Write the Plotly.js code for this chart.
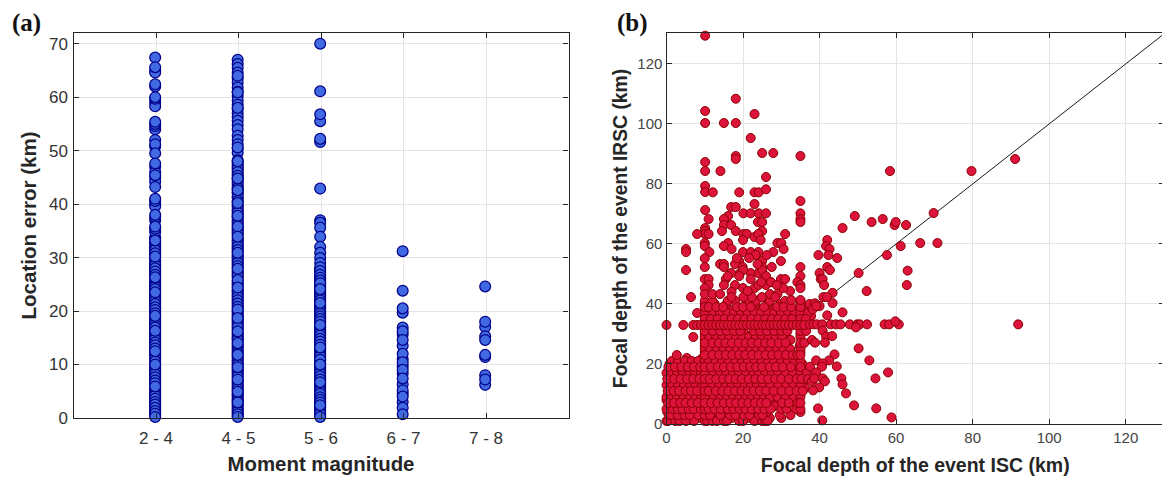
<!DOCTYPE html>
<html>
<head>
<meta charset="utf-8">
<script src="https://cdn.plot.ly/plotly-3.0.1.min.js"></script>
<style>html,body{margin:0;padding:0;background:#fff;overflow:hidden;width:1162px;height:478px}#chart{width:1164px;height:478px}</style>
</head>
<body>
<div id="chart"></div>
<script>
// ---------- Panel (a): location error by magnitude class ----------
const magnitudeClasses = ["2 - 4", "4 - 5", "5 - 6", "6 - 7", "7 - 8"];
const denseM2to4 = [33.8,33.5,32.9,32.3,31.7,31.1,30.5,29.9,29.2,28.8,28.3,27.7,27.1,26.6,26,25.3,24.8,24.3,23.8,23.2,22.7,22.1,21.6,21,20.5,19.9,19.4,18.9,18.3,17.7,17.2,16.6,16,15.5,14.9,14.4,13.8,13.3,12.8,12.2,11.6,11.1,10.3,9.7,9.1,8.5,7.9,7.3,6.8,6.2,5.6,5,4.4,3.9,3.3,2.8,2.2,1.6,1,0.5];
const errorsM2to4 = [67.4,65.0,64.6,65.6,62.0,62.4,59.0,58.3,59.7,60.0,54.0,54.6,55.0,55.4,52.0,50.8,51.2,49.5,47.0,46.0,47.6,45.0,44.2,45.4,43.2,40.0,39.6,40.6,41.0,37.0,37.6,38.0,34.8,35.4,35.8,32.6,32.0,31.4,30.8,29.4,28.6,28.0,27.4,26.8,25.6,25.0,24.6,24.1,23.0,22.4,21.9,21.3,20.7,20.2,19.6,18.6,18.0,17.4,16.9,15.8,15.2,14.7,14.1,13.6,13.0,11.9,11.3,10.6,9.4,8.8,8.2,7.6,7.0,6.5,5.3,4.7,4.2,3.6,3.0,2.5,1.9,1.3,0.8,33.2,30.2,26.3,23.5,19.1,16.3,12.5,10.0,5.9,0.2];
const denseM4to5 = [47.8,47,46.4,45.6,44.9,44.2,43.4,42.8,42,41.2,40.4,39.5,38.8,38.1,37.4,36.7,36,35.5,34.9,34.3,33.6,33,32.3,31.7,31.1,30.5,29.9,29.3,28.7,28.1,27.5,26.9,26.3,25.6,25,24.6,24,23.5,22.9,22.3,21.7,21.1,20.5,20,19.4,18.9,18.4,17.9,17.3,16.8,16.4,15.8,15.2,14.8,14.2,13.7,13.1,12.5,11.9,11.4,10.8,10.3,9.7,9.2,8.7,8.1,7.5,6.9,6.3,5.7,5.1,4.6,4.1,3.5,3.1,2.6,2.1,1.5,1,0.4];
const errorsM4to5 = [67.0,66.2,65.5,64.6,63.6,62.8,61.8,61.0,60.2,59.4,58.6,57.8,57.0,56.3,55.6,54.8,54.0,52.8,52.0,51.2,50.4,49.6,48.2,47.4,46.7,46.0,45.3,44.6,43.8,43.0,42.2,41.4,40.6,39.8,39.0,38.4,37.7,37.0,36.4,35.2,34.6,33.2,32.6,32.0,31.4,30.2,29.6,29.0,28.4,27.2,26.6,25.2,23.8,23.2,22.6,22.0,21.4,20.8,19.8,19.2,18.2,17.6,17.0,15.6,15.0,14.6,13.4,12.8,12.2,11.2,10.6,10.0,9.0,8.4,7.8,6.6,6.0,5.4,4.4,3.8,3.3,2.4,1.8,1.2,0.7,64.0,60.9,58.0,50.6,48.0,44.8,42.6,40.2,37.8,35.8,33.9,30.9,27.9,25.8,24.4,20.3,18.7,16.2,14.0,11.8,9.5,7.2,4.9,2.9,0.2];
const denseM5to6 = [27.8,27.2,26.5,26,25.4,24.9,24.4,23.9,23.3,22.8,22.3,21.8,21.2,20.7,20.2,19.8,19.3,18.8,18.3,17.8,17.1,16.6,16.1,15.6,15.1,14.6,14,13.5,12.9,12.4,11.8,11.2,10.7,10.2,9.7,9.2,8.7,8.1,7.5,6.9,6.4,5.9,5.3,4.8,4.2,3.7,3.1,2.6,2.1,1.6,1,0.5];
const errorsM5to6 = [70.0,61.1,55.5,56.8,51.6,52.2,42.9,37.0,36.5,35.6,33.9,32.0,30.9,29.9,29.0,28.2,27.5,26.8,26.2,25.7,24.7,23.6,23.0,22.5,22.0,21.0,20.5,20.0,19.5,19.0,18.5,18.0,16.9,16.4,15.9,15.4,14.8,14.3,13.7,12.7,12.1,11.5,10.9,9.5,9.0,8.4,7.8,7.2,6.2,5.6,5.0,4.5,3.9,3.4,2.9,1.9,1.3,0.8,25.2,24.1,21.5,17.4,13.2,10.0,6.7,2.4,0.2];
const errorsM6to7 = [31.2,23.8,19.7,20.5,16.9,15.6,13.5,11.0,9.7,8.3,6.3,4.6,3.0,16.2,14.6,12.0,10.4,9.0,7.4,5.2,4.0,1.9,0.7];
const errorsM7to8 = [24.6,17.0,18.0,15.3,14.6,11.4,11.8,6.2,8.0,7.2];

// ---------- Panel (b): focal depth, ISC against IRSC ----------
const axisTicksDepth = [0,20,40,60,80,100,120];
const identityLine = [0,130];
const upperIsc = [10.1,18.1,10.1,23,10.1,15,18.1,22,25,27.9,35,18.1,18.1,10.1,10.1,14.1,26,10.1,10.1,12.1,19,23,24.1,26,23,35,16.9,18.1,10.1,20.1,22,24.1,26,35,16.1,15,11,35,35,23.9,25,15,16.9,10.1,10.1,10.1,14.5,18.1,25,8,11,20.1,21,23,24,31,20,24.6,10,10,16.1,15,17,29,30,30.6,27.9,5.1,5.1,11.2,20,22,24,23.3,10,29.9,19,25,14,15,17.9,10,15,19.9,25,27.5,35,5.1,16.9,19.2,24,22,20,25,26,19,35,10,11,15.5,22,29.9,31,34.2,35,11,15,20,23,26,24,10,10,17.9,17,27,29,32.3,35,30.5,6.4,12,14,17,20.1,22.3,24.9,28.4,35,21.6,23.8,26.2,24.8,18.4,27.3,16,21.2,32.6,28.8];
const upperIrsc = [129.4,108.4,104.3,103.3,100.3,100.3,100.3,95.3,90.3,90.3,89.3,89.3,88.3,87.3,84.3,84.3,82.3,79.3,77.3,77.2,77.2,77.2,77.2,78.2,73.3,74.3,72.3,72.3,71.3,70.2,70.2,70.2,70.2,70.2,69.3,68.3,68.3,68.3,67.3,67.3,67.3,66.3,66.3,65.3,64.3,63.3,64.3,64.3,64.3,63.3,63.3,63.3,63.3,62.3,63.3,63.3,61.3,61.3,60.3,59.3,60.3,59.3,58.3,60.3,60.3,58.3,57.3,58.3,57.3,57.3,57.3,57.3,57.3,56.3,55.2,54.3,54.3,54.3,53.3,53.3,53.3,52.3,52.3,52.3,52.3,52.3,52.3,51.3,50.3,50.3,50.3,50.3,51.3,51.3,49.3,49.3,49.3,48.3,48.3,48.3,48.3,48.3,48.3,47.3,46.3,46.3,46.3,45.3,45.3,46.3,46.3,45.3,43.3,46.3,44.1,43.3,43.3,44.3,45.3,45.3,42.3,43.3,43.3,42.3,42.3,42.3,42.3,42.3,41.3,55.3,53.3,56.3,47.3,55.3,47.3,49.3,44.3,41.3,46.3];
const outlierIsc = [91.1,79.7,58.4,49.2,46,53.6,56.5,59.6,59.9,62.6,69.8,66.3,70.8,61.2,57.6,63,62.8,50.2,52.3,43.4,43.4,42,41.7,42.6,42.3,39.7,44.6,42,42.7,40,40.3,40.8,41.2,41,41.9,38.8,40,38.2,39.1,46,42,37.5,38.4,39.3,40.7,42.9,44.3,45.5,47.9,49.8,50.5,52.4,57,58.2,60.7,59.8,49.5,91.9,40.8,41.7,43.3,38,38.8,41.4,50.2,43.9,53,39.1,42.5,40.8,40.6,44.5,37.5,39.1,57.9,54.6,45.7,46,40.8,41.4,38,38.6,39.9,38.3,46.9,49,54.8,39.6,58.8,40.7];
const outlierIrsc = [88.3,84.3,84.3,69.3,65.3,67.3,68.3,66.3,67.3,66.3,70.3,60.3,60.3,59.3,56.3,51.1,46.3,50.3,44.3,43.7,40.3,61.3,59.3,58.3,56.3,56.3,55.3,52.3,51.3,50.3,48.3,48.3,46.3,42.3,42.3,40.2,39.3,38.2,39.3,37.2,36.2,33.2,33.2,33.2,33.2,33.2,33.2,33.2,33.2,33.2,33.2,33.2,33.2,33.2,33.2,34.2,32.2,33.2,31.1,29.1,29.3,28,27.1,27.1,25.2,23.2,21.2,21.2,21.2,20.2,19.1,19.2,19.1,17.2,17.2,15.2,15.2,13.2,15.2,14.2,14.2,15.2,12.2,11.2,10.2,6.2,5.2,5.2,2.2,1.2];
const clusterRowDepths = [2,18,30,10,38,24,4,14,34,20,8,28,16,6,40,26,12,22,36,1,17,9,25,3,21,13,37,29,5,19,11,41,7,23,15,35,31,39,27,33];
const iscRow1 = [0,0.4,2.3,3.4,5.1,7.2,10,10.6,12,13.2,15,15.8,19,20,23,25,25.8,26.4];
const iscRow2 = [1.1,4,6.3,8.9,11.3,14.2,17,21.4,24,27,30];
const iscRow3 = [0.6,1.2,3,4.7,6.1,8.3,10,11.4,14.1,16.6,18,20.3,21.7,24.2,25.1,29.6,32.4];
const iscRow4 = [0.2,2.1,3.8,7.8,9.4,12.7,15.4,18.8,22.6,26.2,35];
const iscRow5 = [0,1.6,2.9,4.2,5.8,7.1,9,10,11,12.6,14.2,16,17.5,19.1,20.6,22.3,24,25.6,27.2,30,31.4,33.9,35];
const iscRow6 = [1,2.6,5.2,6.8,8.7,11.7,13.6,16.4,20.1,23,25,28.3,34.6];
const iscRow7 = [0.4,2,3.6,5,6.6,8.2,10,11.7,13.3,15,16.7,18.2,19.8,21.4,23.1,24.7,26.1,30.2,32,34.3,35];
const iscRow8 = [0,3.1,4.9,7.3,9.6,12.4,14.7,17.8,21,24.5,27.7,29.3,33];
const iscRow9 = [0,1.4,2.7,4.4,6,7.7,9.1,10,12.3,14,15.7,17.4,19,20.7,22.2,23.9,25.5,27,29,31,33.2,35];
const iscRow10 = [1.6,2.4,5.7,8.1,10,11.1,13.5,16.3,19.4,22.5,25.9,28.8,31.8,35];
const iscRow11 = [0.3,1.9,3.3,5,6.4,8,10,11,12.9,14.6,16.2,17.9,19.6,21.2,22.8,24.4,26,28,30.1,32.1,34,35.6];
const iscRow12 = [0.7,4.1,6.9,9.3,10,12.6,15.2,18.4,20.9,23.7,27.3,30.7,33.6,36.2];
const iscRow13 = [0,1.5,3,4.6,6.2,7.6,9.2,10,12,13.7,15.4,17,18.6,20.4,22,23.6,25.2,27.1,29.2,31.3,33.1,35];
const iscRow14 = [1.2,2.5,5.5,7.9,10,11.8,14.3,16.9,19.3,22.9,26.3,28.9,32.6,34.8];
const iscRow15 = [0.2,2,3.7,5.4,7,8.6,10,11.3,13,14.8,16.4,18.1,19.7,21.5,23.2,24.9,26.6,28.4,30,32,34,35.3,37];
const iscRow16 = [0.9,3.4,6.5,9,10,12.5,15.1,17.7,20.5,24.2,27.8,30.8,33.7,36];
const iscRow17 = [0,1.3,2.8,4.3,6,7.5,9.1,10,12.2,14,15.6,17.3,19,20.8,22.6,24.1,25.8,27.5,29.1,31,33,35,36.6];
const iscRow18 = [1.7,4.6,7.4,10,11.2,13.8,16.1,18.9,21.7,25.3,28.2,31.5,34.4];
const iscRow19 = [0.5,2.2,3.9,5.6,7.2,8.8,10,11.6,13.4,15,16.8,18.5,20.2,21.9,23.4,25,26.9,28.6,30.4,32.5,35];
const iscRow20 = [0.8,3.2,6,8.5,10,12.4,14.7,17.4,20.3,22.7,26,29.7,32.9,35.5];
const iscRow21 = [1.4,3,4.8,6.6,8.3,10,11,12.8,14.5,16.2,18,19.7,21.3,23,24.8,26.5,28.1,30,31.7,33.4,35];
const iscRow22 = [5.3,9.4,10,13.2,15.6,18.6,21.2,24,27.2,30.3,33.8];
const iscRow23 = [2.7,10,12,13.8,15.5,17.2,19,20.6,22.4,24.1,25.9,27.6,29.3,31.2,33,34.2,35];
const iscRow24 = [10,11.1,14.3,16.7,19.5,22.1,24.8,28.4,30.9,35];
const iscRow25 = [10,11.4,13.1,14.9,16.6,18.3,20,21.8,23.5,25.2,27,28.8,30.5,32.3,35];
const iscRow26 = [10,12.6,15.3,17.9,20.6,23.2,26.1,28.9,31.4,34.8];
const iscRow27 = [10,12,13.7,15.4,17.1,18.9,20.7,22.3,24,25.8,27.4,29.4,31.1,35,36];
const iscRow28 = [10,11.5,14.4,16.3,19.2,21.9,24.6,27,30,32.4];
const iscRow29 = [7,10,11.2,13,14.6,16.4,18.2,19.8,21.6,23.3,25,26.7,28.5,30.2,35];
const iscRow30 = [10,12.9,15.1,17.8,20.5,23.6,25.7,28.3,31.2,35];
const iscRow31 = [10,12.1,14,15.8,17.6,19.3,22.8,24.5,26.3,28.2,30,31.6,35,36.5];
const iscRow33 = [0,4.4,7,8,9,10,11,12,13,14,15,16,17,18,19,20,21,22,23,24,25,26,27,28,29,30,31,32,33,34,35,36];
const iscRow34 = [10,11.8,14.6,16.9,19.7,22.6,25.3,27.9,30.5,33.1,35];
const iscRow35 = [10,11.6,13.4,15.2,17,18.7,20.4,22.2,24,25.8,27.6,29.2,31,32.8,35,36.4];
const iscRow36 = [10,12.7,15.5,18.1,20.8,23.7,26.2,29.5,32.1,34.9,37.8];
const iscRow37 = [8,10,12.2,14,15.9,17.6,19.4,21.2,23,24.7,26.4,28.1,29.9,31.8,33.4,35,37];
const iscRow38 = [10,14.2,16.6,19,24.4,27.1,30.7,33.7,36.3];
const iscRow39 = [10,11,13,14.8,18.4,20,22,25.5,28.9,30.6,32.6,35];
const iscRow40 = [10,12.6,15.7,20.9,23.1,26.4,29.8,35,37.4];
const iscRow41 = [10,12,16,18,21.6,23.4,27,31,35];
const clusterRows = {1:iscRow1,2:iscRow2,3:iscRow3,4:iscRow4,5:iscRow5,6:iscRow6,7:iscRow7,8:iscRow8,9:iscRow9,10:iscRow10,11:iscRow11,12:iscRow12,13:iscRow13,14:iscRow14,15:iscRow15,16:iscRow16,17:iscRow17,18:iscRow18,19:iscRow19,20:iscRow20,21:iscRow21,22:iscRow22,23:iscRow23,24:iscRow24,25:iscRow25,26:iscRow26,27:iscRow27,28:iscRow28,29:iscRow29,30:iscRow30,31:iscRow31,33:iscRow33,34:iscRow34,35:iscRow35,36:iscRow36,37:iscRow37,38:iscRow38,39:iscRow39,40:iscRow40,41:iscRow41};

// ---------- Build the traces ----------
const magnitudeColumns = [denseM2to4.concat(errorsM2to4), denseM4to5.concat(errorsM4to5), denseM5to6.concat(errorsM5to6), errorsM6to7, errorsM7to8];
const columnX = [], columnY = [];
magnitudeColumns.forEach((col, i) => col.forEach(v => { columnX.push(i + 0.99); columnY.push(v); }));

const depthIsc = [], depthIrsc = [];
clusterRowDepths.forEach(d => clusterRows[d].forEach(x => { depthIsc.push(x); depthIrsc.push(d); }));
upperIsc.forEach((x, i) => { depthIsc.push(x); depthIrsc.push(upperIrsc[i]); });
outlierIsc.forEach((x, i) => { depthIsc.push(x); depthIrsc.push(outlierIrsc[i]); });

const W = 1164, H = 478;
const axisBase = {
  showline: true, linecolor: "#262626", linewidth: 1.2, mirror: "ticks",
  ticks: "inside", ticklen: 5, tickwidth: 1, tickcolor: "#262626",
  showgrid: true, gridcolor: "#e4e4e4", gridwidth: 1.3, zeroline: false,
  automargin: false
};
const traces = [
  { type: "scatter", mode: "markers", x: columnX, y: columnY, xaxis: "x", yaxis: "y",
    cliponaxis: false, hoverinfo: "y",
    marker: { size: 10.8, color: "#4169e1", line: { color: "#00008b", width: 1.25 } } },
  { type: "scatter", mode: "lines", x: identityLine, y: identityLine, xaxis: "x2", yaxis: "y2",
    hoverinfo: "skip", line: { color: "#1a1a1a", width: 1 } },
  { type: "scatter", mode: "markers", x: depthIsc, y: depthIrsc, xaxis: "x2", yaxis: "y2",
    cliponaxis: false, hoverinfo: "x+y",
    marker: { size: 9, color: "#dc143c", line: { color: "#8b0000", width: 1 } } }
];
const layout = {
  width: W, height: H, showlegend: false,
  margin: { l: 0, r: 0, t: 0, b: 0 },
  paper_bgcolor: "#fff", plot_bgcolor: "#fff",
  font: { family: "Liberation Sans, Arial, sans-serif", color: "#262626" },
  xaxis: Object.assign({}, axisBase, {
    domain: [73.5 / W, 568.5 / W], range: [0, 6], anchor: "y",
    tickmode: "array", tickvals: [1, 2, 3, 4, 5], ticktext: magnitudeClasses,
    ticklabelstandoff: 4,
    tickfont: { size: 17, color: "#333" },
    title: { text: "<b>Moment magnitude</b>", font: { size: 20.4, color: "#262626" }, standoff: 10 }
  }),
  yaxis: Object.assign({}, axisBase, {
    domain: [(H - 418) / H, (H - 33) / H], range: [0, 72], anchor: "x",
    tickmode: "array", tickvals: [0, 10, 20, 30, 40, 50, 60, 70],
    ticklabelstandoff: 1,
    tickfont: { size: 17, color: "#333" },
    title: { text: "<b>Location error (km)</b>", font: { size: 20.5, color: "#262626" }, standoff: 6 }
  }),
  xaxis2: Object.assign({}, axisBase, {
    domain: [666.5 / W, 1], range: [0, 130], anchor: "y2",
    tickmode: "array", tickvals: axisTicksDepth,
    tickfont: { size: 15, color: "#444" },
    title: { text: "<b>Focal depth of the event ISC (km)</b>", font: { size: 19.5, color: "#262626" }, standoff: 13 }
  }),
  yaxis2: Object.assign({}, axisBase, {
    domain: [(H - 424) / H, (H - 33) / H], range: [0, 130.3], anchor: "x2",
    tickmode: "array", tickvals: axisTicksDepth,
    tickfont: { size: 15, color: "#444" },
    title: { text: "<b>Focal depth of the event IRSC (km)</b>", font: { size: 19.3, color: "#262626" }, standoff: 4 }
  }),
  annotations: [
    { text: "<b>(a)</b>", xref: "paper", yref: "paper", x: 26 / W, y: (H - 23) / H, showarrow: false,
      xanchor: "center", yanchor: "middle", font: { family: "Liberation Serif, Times New Roman, serif", size: 25, color: "#111" } },
    { text: "<b>(b)</b>", xref: "paper", yref: "paper", x: 632.5 / W, y: (H - 23) / H, showarrow: false,
      xanchor: "center", yanchor: "middle", font: { family: "Liberation Serif, Times New Roman, serif", size: 25, color: "#111" } }
  ]
};
Plotly.newPlot("chart", traces, layout, { displayModeBar: false, responsive: false });
</script>
</body>
</html>
